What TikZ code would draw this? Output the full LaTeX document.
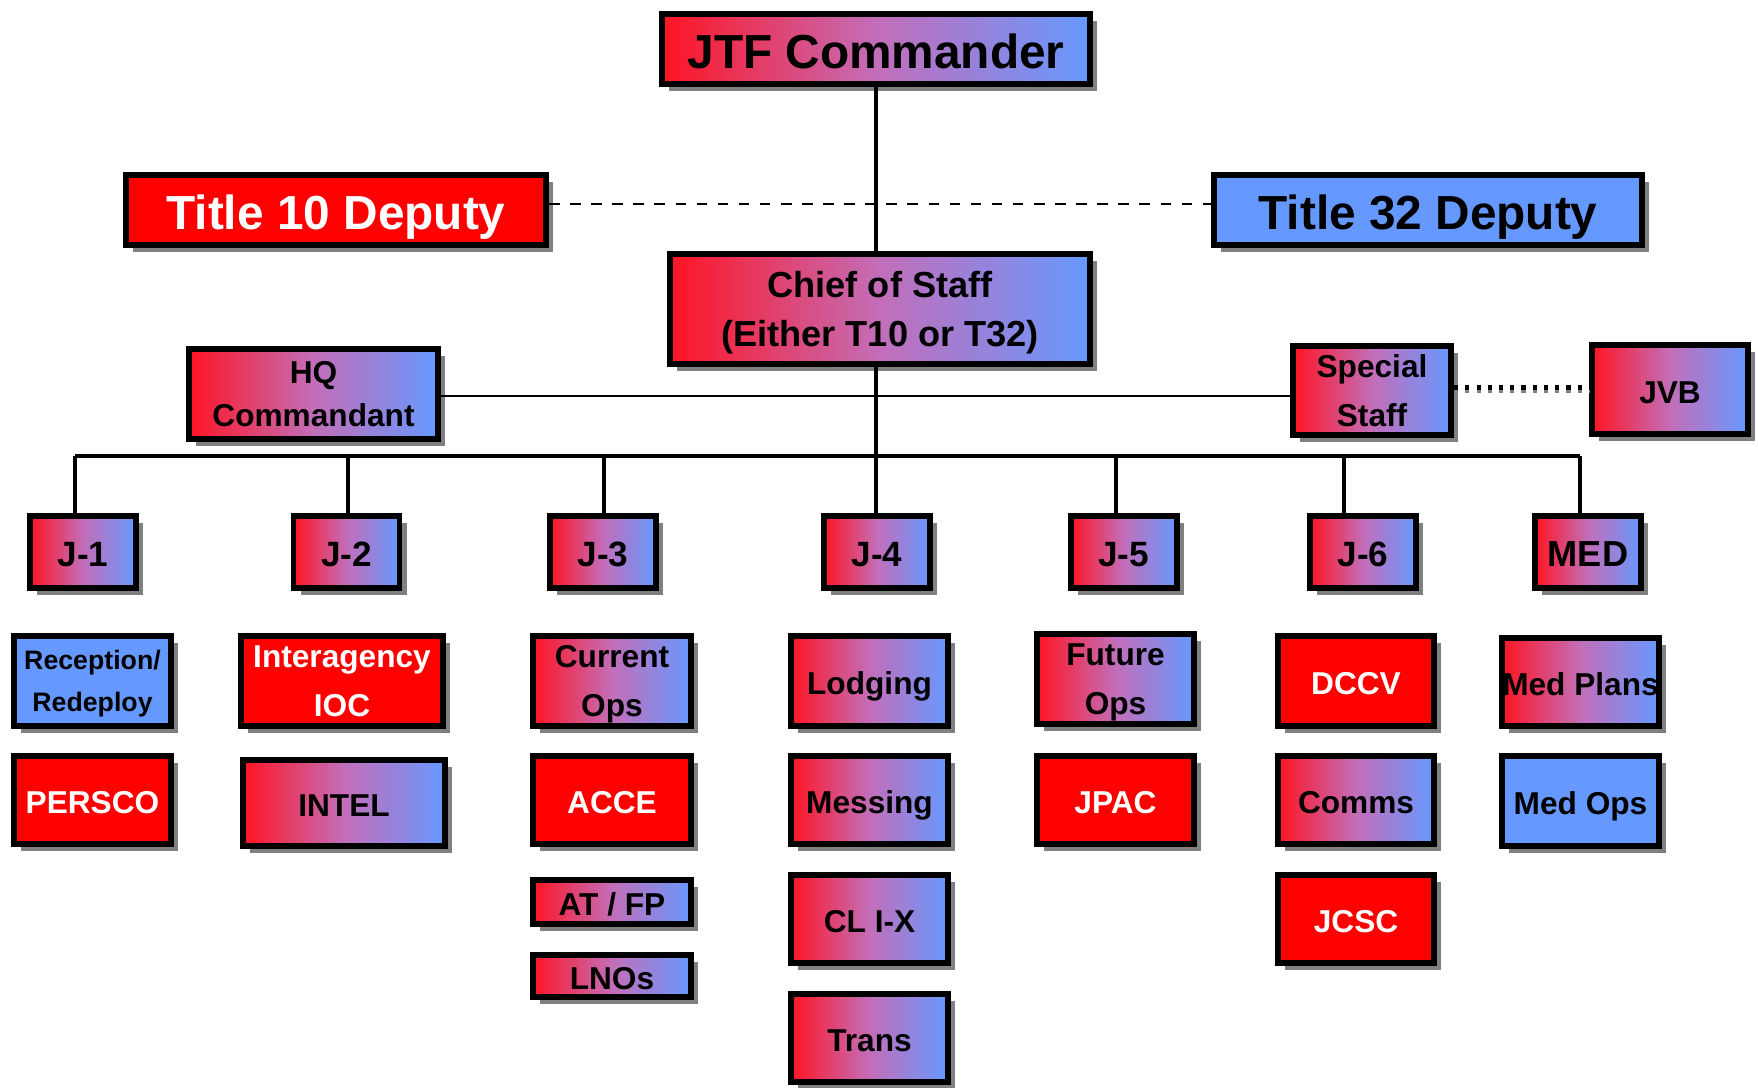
\documentclass[tikz,border=0pt]{standalone}
\usepackage{fontspec}
\setmainfont{Liberation Sans}
\usepackage{tikz}
\usetikzlibrary{shadows}
\definecolor{boxred}{RGB}{255,0,0}
\definecolor{boxblue}{RGB}{102,153,255}
\definecolor{gradl}{RGB}{255,20,35}
\definecolor{gradm}{RGB}{195,110,185}
\definecolor{gradr}{RGB}{102,153,255}
\definecolor{shadowgray}{RGB}{128,128,128}
\pgfdeclarehorizontalshading{redblue}{100bp}{color(0bp)=(gradl); color(25bp)=(gradl); color(50bp)=(gradm); color(75bp)=(gradr); color(100bp)=(gradr)}

\begin{document}
\begin{tikzpicture}[font=\bfseries,
	box/.style={draw, line width=1.7pt, inner sep=0pt, align=center,
		drop shadow={shadow xshift=0.07cm, shadow yshift=-0.07cm, fill=shadowgray, opacity=1}},
	grad/.style={box, shade, shading=redblue},
	redbox/.style={box, fill=boxred, text=white},
	bluebox/.style={box, fill=boxblue},
	sz/.style 2 args={minimum width=#1cm, minimum height=#2cm},
	big/.style={font=\bfseries\fontsize{13.6}{16}\selectfont, text height=11.3pt, text depth=0pt},
	jbox/.style={font=\bfseries\fontsize{10}{14}\selectfont, text height=8.1pt, text depth=0pt},
	mid/.style={font=\bfseries\fontsize{10.3}{14}\selectfont},
	small/.style={font=\bfseries\fontsize{9}{14}\selectfont},
	one/.style={text height=7.9pt, text depth=0pt},
	two/.style={text depth=0pt}]
	\useasboundingbox (0,0) rectangle (17.58,10.87);
	%Comando
	\node [grad, big, sz={4.28}{0.70}] (jtf) at (8.76,10.38) {JTF Commander};
	\node [redbox, big, sz={4.20}{0.70}] (tten) at (3.36,8.77) {Title 10 Deputy};
	\node [bluebox, big, sz={4.28}{0.70}] (tttt) at (14.28,8.77) {Title 32 Deputy};
	\node [grad, mid, two, sz={4.20}{1.10}] (cos) at (8.80,7.78) {Chief of Staff\\(Either T10 or T32)};
	\node [grad, two, sz={2.49}{0.90}, font=\bfseries\fontsize{9}{12.1}\selectfont] (hq) at (3.135,6.93) {HQ\\Commandant};
	\node [grad, small, two, sz={1.58}{0.89}] (spec) at (13.72,6.965) {Special\\Staff};
	\node [grad, small, one, sz={1.56}{0.89}] (jvb) at (16.70,6.975) {JVB};
	%Direzioni J
	\node [grad, jbox, sz={1.06}{0.72}] (j1) at (0.83,5.35) {J-1};
	\node [grad, jbox, sz={1.06}{0.72}] (j2) at (3.465,5.35) {J-2};
	\node [grad, jbox, sz={1.06}{0.72}] (j3) at (6.03,5.35) {J-3};
	\node [grad, jbox, sz={1.06}{0.72}] (j4) at (8.77,5.35) {J-4};
	\node [grad, jbox, sz={1.06}{0.72}] (j5) at (11.235,5.35) {J-5};
	\node [grad, jbox, sz={1.06}{0.72}] (j6) at (13.63,5.35) {J-6};
	\node [grad, jbox, sz={1.06}{0.72}, font=\bfseries\fontsize{10.3}{14}\selectfont] (med) at (15.88,5.35) {MED};
	%J-1
	\node [bluebox, two, sz={1.57}{0.90}, font=\bfseries\fontsize{7.6}{11.8}\selectfont] (recep) at (0.925,4.06) {Reception/\\Redeploy};
	\node [redbox, small, one, sz={1.57}{0.88}] (persco) at (0.925,2.87) {PERSCO};
	%J-2
	\node [redbox, small, two, sz={2.02}{0.90}] (ioc) at (3.42,4.06) {Interagency\\IOC};
	\node [grad, small, one, sz={2.02}{0.86}] (intel) at (3.44,2.84) {INTEL};
	%J-3
	\node [grad, small, two, sz={1.58}{0.90}] (curops) at (6.12,4.06) {Current\\Ops};
	\node [redbox, small, one, sz={1.58}{0.88}] (acce) at (6.12,2.87) {ACCE};
	\node [grad, small, one, sz={1.58}{0.44}] (atfp) at (6.12,1.85) {AT / FP};
	\node [grad, small, one, sz={1.58}{0.42}] (lnos) at (6.12,1.11) {LNOs};
	%J-4
	\node [grad, small, one, sz={1.57}{0.90}] (lodg) at (8.695,4.06) {Lodging};
	\node [grad, small, one, sz={1.57}{0.88}] (mess) at (8.695,2.87) {Messing};
	\node [grad, small, one, sz={1.57}{0.88}] (clix) at (8.695,1.68) {CL I-X};
	\node [grad, small, one, sz={1.57}{0.88}] (trans) at (8.695,0.49) {Trans};
	%J-5
	\node [grad, small, two, sz={1.57}{0.90}] (futops) at (11.155,4.08) {Future\\Ops};
	\node [redbox, small, one, sz={1.57}{0.88}] (jpac) at (11.155,2.87) {JPAC};
	%J-6
	\node [redbox, small, one, sz={1.56}{0.90}] (dccv) at (13.56,4.06) {DCCV};
	\node [grad, small, one, sz={1.56}{0.88}] (comms) at (13.56,2.87) {Comms};
	\node [redbox, small, one, sz={1.56}{0.88}] (jcsc) at (13.56,1.68) {JCSC};
	%MED
	\node [grad, small, one, sz={1.57}{0.88}] (medpl) at (15.805,4.05) {Med Plans};
	\node [bluebox, small, one, sz={1.57}{0.90}] (medops) at (15.805,2.86) {Med Ops};
	%Collegamenti
	\draw [line width=0.9pt] (jtf.south) -- (jtf.south |- cos.north);
	\draw [line width=0.9pt] (jtf.south |- cos.south) -- (jtf.south |- j4.north);
	\draw [line width=0.6pt, dashed] ([yshift=0.06cm]tten.east) -- ([yshift=0.06cm]tten.east -| tttt.west);
	\draw [line width=0.6pt] ([yshift=-0.02cm]hq.east) -- ([yshift=-0.02cm]hq.east -| spec.west);
	\draw [line width=1.2pt, dotted, preaction={draw=shadowgray, line width=1.2pt, dotted, transform canvas={yshift=-0.035cm}}] ([yshift=0.03cm]spec.east) -- ([yshift=0.03cm]spec.east -| jvb.west);
	%Barra
	\coordinate (b1) at (0.75,6.31);
	\coordinate (b2) at (3.48,6.31);
	\coordinate (b3) at (6.04,6.31);
	\coordinate (b5) at (11.16,6.31);
	\coordinate (b6) at (13.44,6.31);
	\coordinate (b7) at (15.80,6.31);
	\draw [line width=0.9pt] (b1) -- (b7);
	\draw [line width=0.9pt] (b1) -- (b1 |- j1.north);
	\draw [line width=0.9pt] (b2) -- (b2 |- j2.north);
	\draw [line width=0.9pt] (b3) -- (b3 |- j3.north);
	\draw [line width=0.9pt] (b5) -- (b5 |- j5.north);
	\draw [line width=0.9pt] (b6) -- (b6 |- j6.north);
	\draw [line width=0.9pt] (b7) -- (b7 |- med.north);
\end{tikzpicture}
\end{document}
